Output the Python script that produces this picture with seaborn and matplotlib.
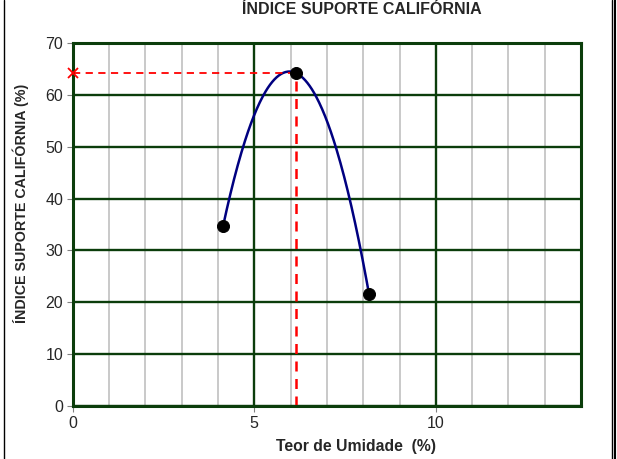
import numpy as np
import pandas as pd
import seaborn as sns
import matplotlib.pyplot as plt
from matplotlib.lines import Line2D
from matplotlib.ticker import MultipleLocator

# DATA
umidade = [4.14, 6.15, 8.16]
isc = [34.7, 64.2, 21.6]
umidade_otima = 6.15
isc_max = 64.2

sns.set_style("white")
plt.rcParams["font.family"] = ["Liberation Sans", "DejaVu Sans"]

df = pd.DataFrame({"umidade": umidade, "isc": isc})

# quadratic trendline between first and last point
coef = np.polyfit(df["umidade"], df["isc"], 2)
xs = np.linspace(df["umidade"].min(), df["umidade"].max(), 200)
curve = pd.DataFrame({"x": xs, "y": np.polyval(coef, xs)})

fig = plt.figure(figsize=(6.17, 4.59), dpi=100)
ax = fig.add_axes([72.8 / 617, 53 / 459, (581 - 72.8) / 617, 363 / 459])

green = "#0b3d0b"
ax.xaxis.set_major_locator(MultipleLocator(5))
ax.xaxis.set_minor_locator(MultipleLocator(1))
ax.yaxis.set_major_locator(MultipleLocator(10))
ax.grid(which="minor", axis="x", color="#c0c0c0", lw=1.2)
ax.grid(which="major", axis="x", color=green, lw=1.7)
ax.grid(which="major", axis="y", color=green, lw=1.7)
ax.set_axisbelow(True)
for s in ax.spines.values():
    s.set_color(green)
    s.set_linewidth(2.2)

sns.lineplot(data=curve, x="x", y="y", ax=ax, color="#000080", lw=1.8)

ax.plot([0, umidade_otima], [isc_max, isc_max], ls="--", color="red", lw=1.3, dashes=(4, 3))
ax.plot([umidade_otima, umidade_otima], [0, isc_max], ls="--", color="red", lw=1.8, dashes=(4, 3))
ax.plot([0], [isc_max], marker="x", color="red", ms=7, mew=1.3, clip_on=False, zorder=5)

sns.scatterplot(data=df, x="umidade", y="isc", ax=ax, color="black", s=75,
                edgecolor="black", zorder=6)

ax.set_xlim(0, 14)
ax.set_ylim(0, 70)
ax.tick_params(axis="both", which="major", labelsize=11.5, length=4, color="#808080",
               direction="out", left=True, bottom=True, pad=3)
ax.tick_params(axis="x", which="minor", length=0)
ax.set_xlabel("")
ax.set_ylabel("")

fig.text(362 / 617, 1 - 9 / 459, "ÍNDICE SUPORTE CALIFÓRNIA", ha="center", va="center",
         fontsize=11.5, fontweight="bold")
fig.text(356 / 617, 1 - 446 / 459, "Teor de Umidade  (%)", ha="center", va="center",
         fontsize=11.3, fontweight="bold")
fig.text(21 / 617, 1 - 203 / 459, "ÍNDICE SUPORTE CALIFÓRNIA (%)", ha="center", va="center",
         rotation=90, fontsize=10.3, fontweight="bold")

# outer frame of the chart object
fig.add_artist(Line2D([4 / 617, 4 / 617], [0, 1], color="black", lw=1, transform=fig.transFigure))
fig.add_artist(Line2D([612 / 617, 612 / 617], [0, 1], color="black", lw=1, transform=fig.transFigure))
fig.add_artist(Line2D([615 / 617, 615 / 617], [0, 1], color="black", lw=1.5, transform=fig.transFigure))

fig.savefig("out.png", dpi=100)
